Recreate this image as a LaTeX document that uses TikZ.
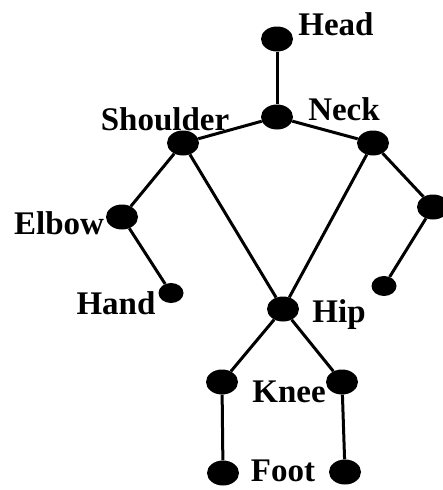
\documentclass[tikz,border=0pt]{standalone}
\usepackage{fontspec}
\setmainfont{Liberation Serif}
\usetikzlibrary{shapes.geometric}

\begin{document}
\begin{tikzpicture}[x=1pt, y=-1pt,
  joint/.style={ellipse, fill=black, inner sep=0pt, minimum width=32pt, minimum height=25pt},
  tip/.style={ellipse, fill=black, inner sep=0pt, minimum width=25pt, minimum height=20pt},
  lbl/.style={inner sep=0pt, font=\fontsize{33}{38}\selectfont\bfseries},
  bone/.style={line width=3pt}]
  \useasboundingbox (0, 0) rectangle (443, 490);

  \node[joint] (head) at (277, 39) {};
  \node[joint] (neck) at (277, 117) {};
  \node[joint] (lsh) at (183, 143) {};
  \node[joint] (rsh) at (373, 143) {};
  \node[joint] (lelb) at (122, 217) {};
  \node[joint] (relb) at (433, 207) {};
  \node[tip] (lhand) at (171, 293) {};
  \node[tip] (rhand) at (384, 286) {};
  \node[joint] (hip) at (283, 309) {};
  \node[joint] (lknee) at (222, 382) {};
  \node[joint] (rknee) at (342, 382) {};
  \node[joint] (lfoot) at (223, 473) {};
  \node[joint] (rfoot) at (345, 472) {};

  \node[lbl] (headl) at (336, 24) {Head};
  \node[lbl] (neckl) at (344, 109) {Neck};
  \node[lbl] (shl) at (165, 119) {Shoulder};
  \node[lbl] (elbl) at (59, 223) {Elbow};
  \node[lbl] (handl) at (116, 303) {Hand};
  \node[lbl] (hipl) at (339, 315) {Hip};
  \node[lbl] (kneel) at (289, 392) {Knee};
  \node[lbl] (footl) at (283, 471) {Foot};

  \draw[bone] (head) -- (neck);
  \draw[bone] (neck) -- (lsh);
  \draw[bone] (neck) -- (rsh);
  \draw[bone] (lsh) -- (lelb);
  \draw[bone] (lelb) -- (lhand);
  \draw[bone] (rsh) -- (relb);
  \draw[bone] (relb) -- (rhand);
  \draw[bone] (lsh) -- (hip);
  \draw[bone] (rsh) -- (hip);
  \draw[bone] (hip) -- (lknee);
  \draw[bone] (hip) -- (rknee);
  \draw[bone] (lknee) -- (lfoot);
  \draw[bone] (rknee) -- (rfoot);
\end{tikzpicture}
\end{document}
